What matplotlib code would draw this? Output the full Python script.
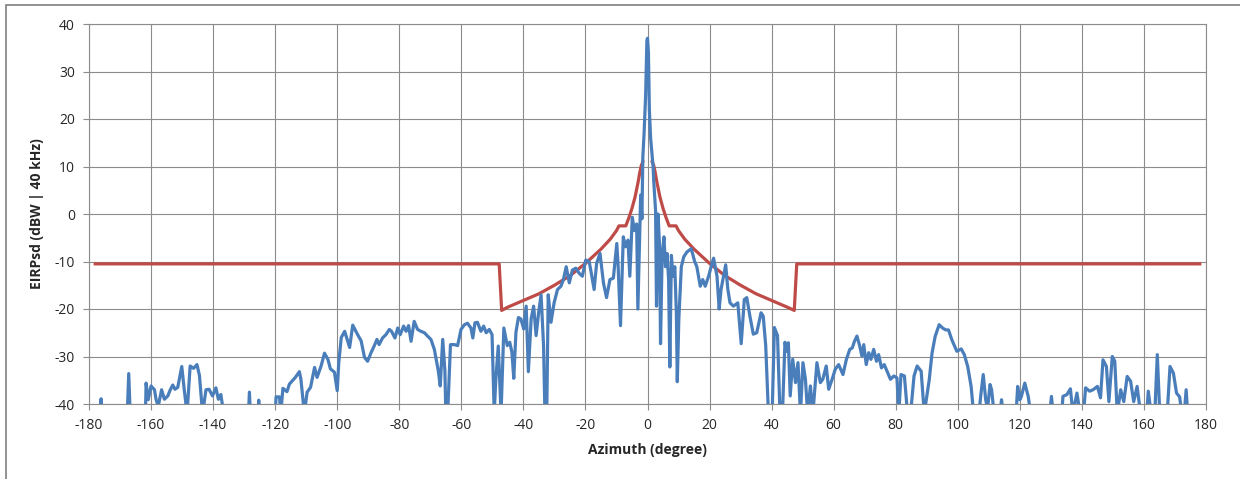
import matplotlib
matplotlib.use("Agg")
import matplotlib.pyplot as plt
from matplotlib.patches import Rectangle

# Measured EIRP density vs azimuth (values below -40 fall off the chart)
azimuth_deg = [
    -178, -176.6, -176.1, -175.6, -168, -167.2, -166.4,
    -162, -161.6, -160.9, -160, -158.9, -158.4, -157.7, -156.6, -155.7, -154.6,
    -153.8, -153, -152.3, -151.4, -150.1, -149.3, -148.4, -147.4, -146.3, -145.2,
    -144.4, -143.4, -142.3, -141.3, -140.2, -139.1, -138.3, -137.5, -136.6,
    -129, -128.3, -127.6, -125.6, -125.3, -125,
    -120.5, -119.7, -118.6, -118.2, -117.5, -116.2, -115.4, -114.3, -113.5,
    -112.2, -111.7, -110.6, -109.7, -108.6, -107.3, -106.5, -105.2, -104.1,
    -103, -102.2, -100.9, -100, -99.5, -98.7, -97.6, -96, -95, -93.5, -92.3,
    -91.2, -90.2, -89.1, -88.1, -87.2, -86.5, -85.4, -84.3, -83.2, -82.5,
    -81.4, -80.5, -79.7, -78.6, -77.8, -77, -76.2, -75.2, -74.1, -73, -71.9,
    -70.9, -69.8, -68.7, -67.4, -66.8, -66, -65.3, -65, -64.4, -63.5, -62.2,
    -61.2, -60.1, -59, -58, -56.9, -56.3, -55.6, -54.8, -53.7, -52.8, -52,
    -51, -50.1, -49.4, -48.9, -48.1, -47.2, -46.3, -45.2, -44.4, -43.7, -43.1,
    -42.4, -41.6, -40.8, -39.9, -39.1, -38.4, -37.5, -36.7, -35.9, -35.1,
    -34.3, -33.5, -33, -32.5, -32, -31.1, -30.1, -29, -27.9, -27.1, -26.2,
    -25.2, -24.2, -23.1, -22, -21, -19.9, -18.8, -18.1, -17.2, -16.4, -15.3,
    -14.2, -13.2, -12.1, -11, -9.9, -9.5, -8.7, -7.8, -7.1, -6.3, -5.7, -4.9,
    -4.2, -3.5, -3.1, -2.6, -2.2, -1.8, -1.5, -1.1, -0.6, -0.2, 0, 0.3, 0.6, 1, 1.4,
    1.8, 2, 2.6, 2.9, 3.4, 3.9, 4.2, 4.7, 5.3, 5.8, 6.3, 6.8, 7.2, 7.7, 8.2,
    8.8, 9.3, 9.6, 10.1, 10.9, 11.7, 12.7, 14.1, 15.2, 15.9, 17, 17.8, 18.6,
    19.7, 20.5, 21.3, 22.4, 23.1, 23.7, 24.5, 25.2, 25.9, 26.6, 27.7, 29.1,
    30.2, 31.2, 32, 33, 34.1, 35.2, 36.6, 37.3, 38.1, 39.1, 40.1, 40.9, 41.9,
    42.7, 43.5, 44.3, 44.9, 45.4, 46, 46.8, 47.7, 48.5, 49.3, 50.1, 50.9,
    51.6, 52.5, 53.3, 54.6, 55.7, 56.5, 57.6, 58.4, 59.5, 60.5, 61.6, 63,
    64.1, 65.2, 66, 66.7, 67.5, 68.4, 69.1, 69.7, 70.5, 71.3, 72, 72.9, 73.8,
    74.5, 75.4, 76.3, 77.4, 78.3, 79.4, 80.4, 81, 81.7, 82.8, 83.8, 84.8,
    85.9, 86.9, 88.2, 89.2, 90.8, 91.7, 92.7, 94, 95.1, 96.1, 97, 98.1, 99.7,
    101.1, 102.1, 103.2, 104.3, 105.1, 106.8, 107.5, 108.2, 109, 109.6, 110.4,
    110.9, 111.7, 113.6, 114.1, 114.6, 118.8, 119.3, 120, 120.5, 121.6, 122.7,
    123.5, 129.6, 130.2, 130.7, 133.5, 133.9, 135.2, 136.3, 137.1, 138.4,
    139.4, 140.5, 141.2, 142.5, 143.6, 145, 146, 146.8, 147.9, 148.7, 149.8,
    150.6, 151.4, 152.5, 153.5, 154.6, 155.7, 156.7, 157.8, 158.9, 160.9,
    161.4, 162.3, 163.5, 164.3, 165.1, 167.5, 168.4, 169.5, 170.5, 171.5,
    172.2, 173, 173.6, 174.1, 178,
]
eirp_dbw = [
    -48, -48, -38.9, -48, -48, -33.6, -48,
    -48, -35.6, -39.1, -36.2, -37, -39, -40.5, -37, -39, -38.3,
    -37, -36, -36.9, -36.5, -32.1, -37, -42, -32, -32.5, -31.7,
    -34, -42, -37, -36.9, -38.3, -36.6, -39, -38, -42,
    -48, -37.5, -48, -48, -39.2, -48,
    -48, -38.5, -38.5, -42, -36.7, -37.4, -35.8, -35, -34.4,
    -33.2, -34.8, -42, -37.5, -36.5, -32.3, -34.4, -32, -29.3,
    -30.6, -32.6, -33.3, -37.2, -31.3, -26, -24.7, -28.1, -23.4, -25.3, -26.7,
    -30.2, -31, -29.2, -27.8, -26.4, -27.5, -26.1, -25.4, -24.3, -24.7,
    -26.1, -24, -25.4, -23.6, -24.7, -23.5, -26.8, -22.6, -24.3, -24.7, -25,
    -25.7, -26.4, -28.5, -33.1, -36.2, -26.4, -33, -42, -42, -27.5, -27.5,
    -27.7, -24.3, -23.3, -23, -24, -26.1, -22.9, -22.8, -24.7, -23.6, -25,
    -24.3, -25.4, -42, -35, -27.8, -42, -24, -27.7, -27, -29.1, -34.6,
    -24.9, -21.8, -22.1, -24.2, -19.4, -33.2, -22.1, -19.4, -25.6, -20.8,
    -17, -27.7, -44, -44, -17, -22.8, -18.7, -15.9, -15.2, -13.8, -11.1,
    -14.5, -11.8, -11.4, -12.5, -13.1, -9.7, -10, -12.5, -15.9, -10.4, -8.3,
    -14.5, -17.6, -13.8, -13.5, -6.2, -10.4, -23.5, -4.8, -6.9, -5.5, -13.1, -0.7,
    -3.5, -2.1, -20, -6.9, 4, -1, 12, 17, 25, 36.5, 37, 34, 22, 16, 13,
    10, 7, 0.7, -19.4, 0, -6.9, -27.3, -9, -4.8, -11.1, -8.3, -13.8, -32.2, -8.7, -13.1,
    -11.1, -20.8, -35.3, -22.1, -11.1, -9, -8, -7.3, -10, -11.1, -15.2, -13.8, -15.2,
    -13.1, -11.1, -9.3, -13.1, -20, -15.9, -13.1, -10.7, -15.9, -18.7, -19.4, -18.7,
    -27.3, -18, -17.6, -21.5, -25.3, -25, -20.8, -21.5, -27.7, -44, -44, -23.9, -25.6,
    -42, -42, -27, -28.9, -27.1, -38.3, -30.6, -35.5, -31.3, -42, -31.3, -34.8,
    -42, -36.2, -42, -31.3, -35.5, -34.8, -32, -36.9, -34.8, -32.7, -31.7, -33.8,
    -30.6, -28.5, -28.2, -26.8, -25.7, -27.8, -29.9, -27.5, -31.7, -29.2, -30.6, -28.5, -31,
    -29.6, -32.4, -31.7, -33.4, -34.8, -34.1, -34.5, -42, -33.8, -34.1, -42, -42,
    -34.1, -32, -33.1, -42, -34.9, -29.3, -25.8, -23.3, -24, -24.4, -24.4, -26.5, -28.9,
    -28.4, -29.6, -32.1, -36.3, -42, -42, -37.7, -33.8, -39.1, -41, -35.9,
    -37, -42, -42, -39.1, -42, -42, -36.3, -39.1, -38.4, -35.6, -38.4,
    -42, -42, -38.4, -42, -42, -38.4, -38, -36.8, -42, -37.7,
    -42, -42, -36.6, -37.3, -37, -36.3, -38.7, -30.7, -32.1, -39.5, -30,
    -31, -42, -37, -39.5, -34.2, -35.2, -39.5, -36.3, -42, -42,
    -37.3, -42, -42, -29.6, -42, -42, -32.1, -33.5, -37.7, -38.5,
    -42, -42, -37, -42, -48,
]

# Regulatory EIRP density mask (undefined within +/-1.5 deg of boresight)
nan = float("nan")
mask_az = [-178, -47.8, -47.0, -45, -40, -35, -30, -25, -20, -15, -12, -10,
           -9.2, -7, -6, -5, -4, -3, -2.5, -2, -1.5, 0, 1.5, 2, 2.5, 3, 4, 5,
           6, 7, 9.2, 10, 12, 15, 20, 25, 30, 35, 40, 45, 47.3, 48.1, 178]
mask_eirp = [-10.5, -10.5, -20.3, -19.6, -18.2, -16.8, -15.0, -13.0, -10.4,
             -7.4, -5.3, -3.5, -2.5, -2.5, -0.8, 1.2, 3.6, 6.8, 8.7, 10.2,
             11.0, nan, 11.0, 10.2, 8.7, 6.8, 3.6, 1.2, -0.8, -2.5, -2.5,
             -3.5, -5.3, -7.4, -10.4, -13.0, -15.0, -16.8, -18.2, -19.6,
             -20.3, -10.5, -10.5]

x_ticks = list(range(-180, 181, 20))
y_ticks = list(range(-40, 41, 10))

grid_col = "#8c8c8c"
text_col = "#262626"

plt.rcParams["font.family"] = ["Open Sans", "DejaVu Sans"]
plt.rcParams["axes.unicode_minus"] = False

fig = plt.figure(figsize=(12.4, 4.79), dpi=100)
# outer chart border (cropped at right/bottom in the reference)
fig.patches.append(Rectangle((6 / 1240, -0.05), 1.2, 1 - 5 / 479 + 0.05,
                             transform=fig.transFigure, fill=False,
                             edgecolor="#7f7f7f", linewidth=1.2))

ax = fig.add_axes([89 / 1240, 1 - 404 / 479, (1206 - 89) / 1240, (404 - 24) / 479])

ax.plot(mask_az, mask_eirp, color="#be4b48", linewidth=2.3, zorder=3)
ax.plot(azimuth_deg, eirp_dbw, color="#4a7ebb", linewidth=2.3, zorder=4)

ax.set_xlim(-180, 180)
ax.set_ylim(-40, 40)
ax.set_xticks(x_ticks)
ax.set_yticks(y_ticks)
ax.grid(True, color=grid_col, linewidth=0.8)
ax.set_axisbelow(True)
for s in ax.spines.values():
    s.set_color(grid_col)
    s.set_linewidth(0.8)
ax.tick_params(axis="both", colors=grid_col, length=4, width=0.8,
               labelcolor=text_col, labelsize=10)
ax.tick_params(axis="x", pad=6)
ax.tick_params(axis="y", pad=6)

ax.set_xlabel("Azimuth (degree)", fontsize=10, fontweight="bold",
              color=text_col, labelpad=7)
ax.set_ylabel("EIRPsd (dBW | 40 kHz)", fontsize=10, fontweight="bold",
              color=text_col, labelpad=8)

fig.savefig("out.png", dpi=100)
